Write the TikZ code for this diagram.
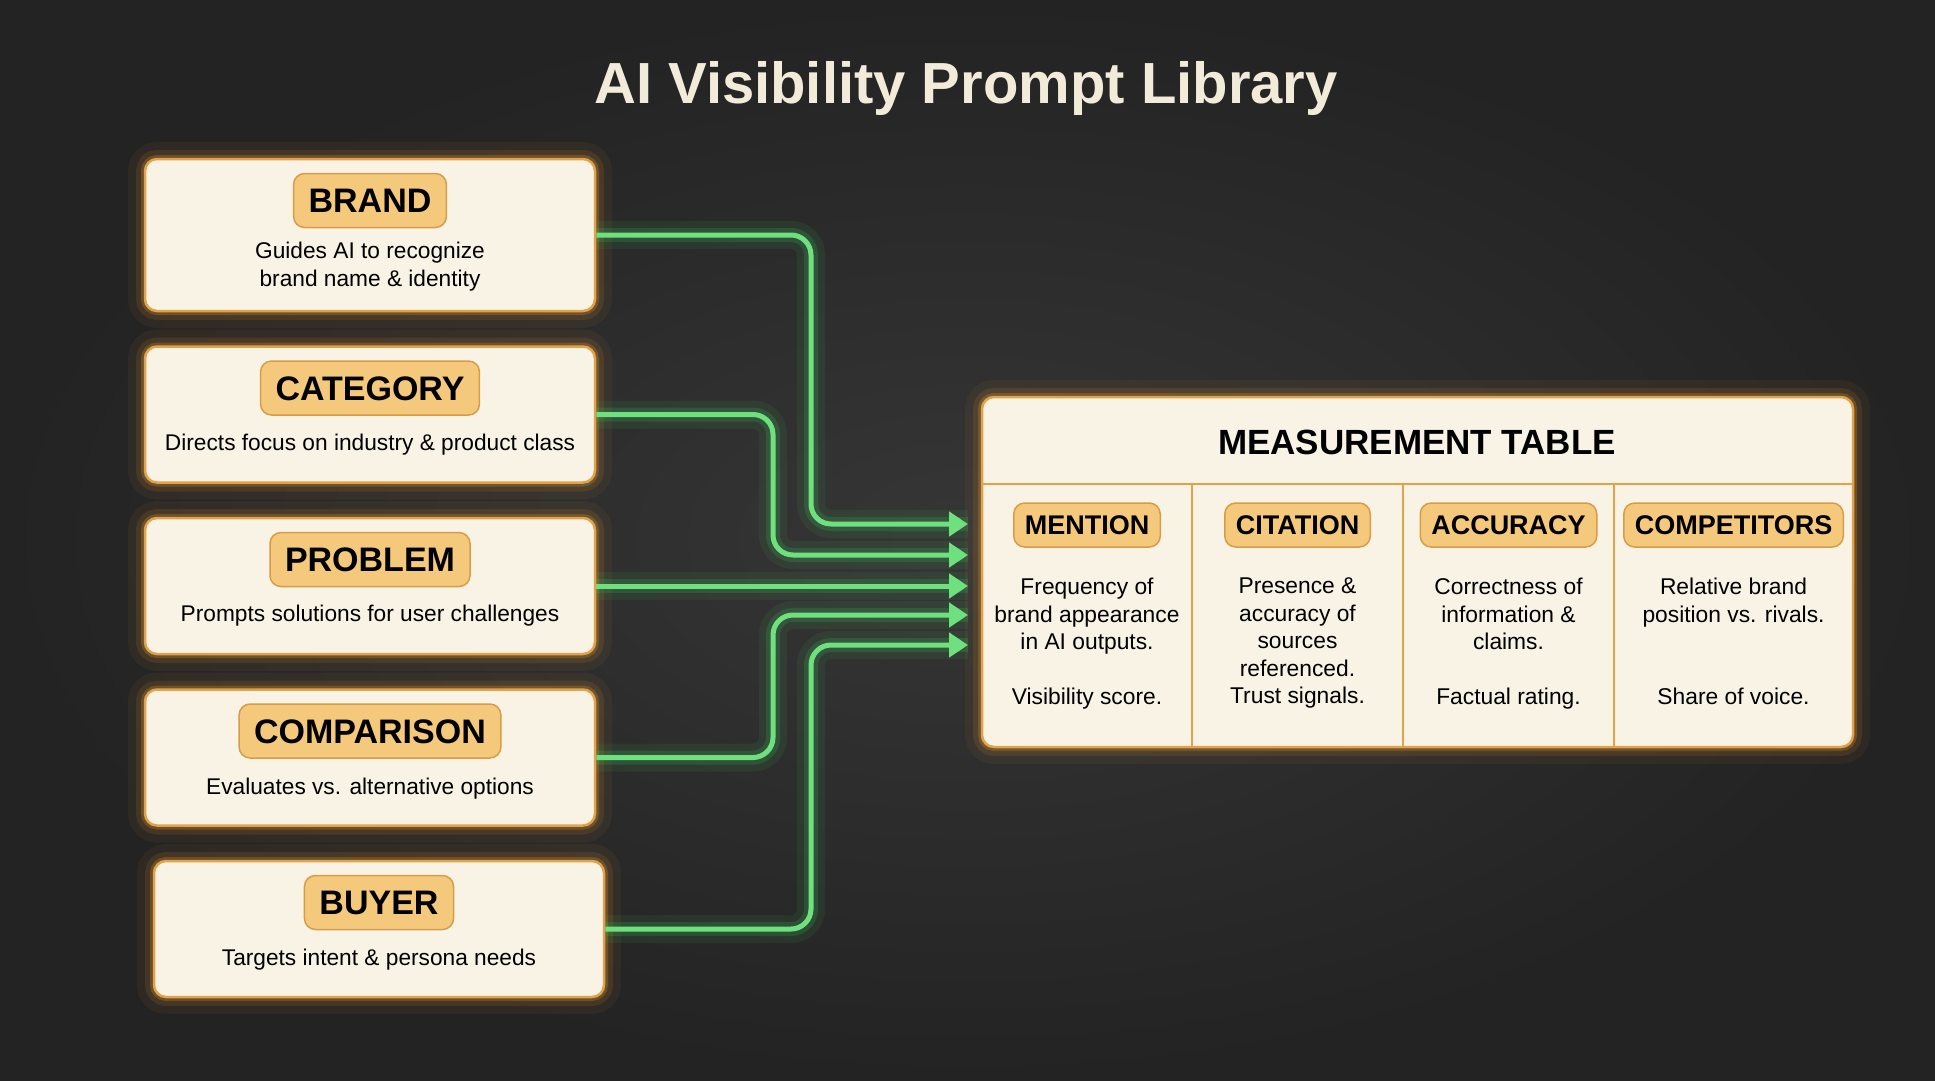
\documentclass[tikz,border=0pt]{standalone}
\usepackage{fontspec}
\setmainfont{Liberation Sans}
\usetikzlibrary{positioning,arrows.meta}
\definecolor{bgdark}{HTML}{232323}
\definecolor{bgmid}{HTML}{363636}
\definecolor{cream}{HTML}{F8F3E5}
\definecolor{gold}{HTML}{E2A24A}
\definecolor{amber}{HTML}{E8982E}
\definecolor{tagfill}{HTML}{F5C97C}
\definecolor{tagline}{HTML}{D89C48}
\definecolor{neon}{HTML}{6FE07E}
\definecolor{neonglow}{HTML}{3FCB5C}
\definecolor{titlecol}{HTML}{F2EBD9}
\newcommand{\fsz}[2]{\fontsize{#1pt}{#2pt}\selectfont}

\begin{document}
\begin{tikzpicture}[x=1pt, y=-1pt, node distance=33pt,
  box/.style={draw=gold, line width=2.5pt, fill=cream, rounded corners=12pt,
    minimum width=450pt, minimum height=136pt,
    preaction={draw=amber, line width=34pt, draw opacity=.06},
    preaction={draw=amber, line width=18pt, draw opacity=.12},
    preaction={draw=amber, line width=8pt, draw opacity=.25}},
  tg/.style={draw=tagline, fill=tagfill, line width=1.5pt, rounded corners=11pt,
    font=\bfseries\fsz{34}{40}, minimum height=54pt, inner xsep=15pt, inner ysep=0pt,
    text height=24.5pt, text depth=0pt},
  ctg/.style={tg, font=\bfseries\fsz{27}{32}, minimum height=44pt, inner xsep=11pt,
    text height=19.5pt},
  ds/.style={font=\fsz{22.7}{28}, align=center, inner sep=0pt},
  bd/.style={ds, font=\fsz{22.8}{27.5}, anchor=north},
  arr/.style={neon, line width=5pt, rounded corners=20pt, -{Triangle[length=19pt,width=24pt]},
    preaction={-, draw=neonglow, line width=28pt, draw opacity=.09},
    preaction={-, draw=neonglow, line width=14pt, draw opacity=.18}}]
\useasboundingbox (0,0) rectangle (1935,1080);
\shade[inner color=bgmid, outer color=bgdark] (0,0) rectangle (1935,1080);

\node[font=\bfseries\fsz{58}{64}, text=titlecol] (title) at (966,88) {AI Visibility Prompt Library};

% prompt categories
\node[box, minimum height=152pt] (brand) at (370,235) {};
\node[box, below=of brand] (cat) {};
\node[box, below=of cat] (prob) {};
\node[box, below=of prob] (comp) {};
\node[box, below=of comp, xshift=9pt] (buyer) {};

\node[tg, below=15pt of brand.north] (brandt) {BRAND};
\node[tg, below=15pt of cat.north] (catt) {CATEGORY};
\node[tg, below=15pt of prob.north] (probt) {PROBLEM};
\node[tg, below=15pt of comp.north] (compt) {COMPARISON};
\node[tg, below=15pt of buyer.north] (buyert) {BUYER};

\node[ds] (brandd) at ([yshift=-109pt]brand.north) {Guides AI to recognize\\brand name \& identity};
\node[ds] (catd) at ([yshift=-99pt]cat.north) {Directs focus on industry \& product class};
\node[ds] (probd) at ([yshift=-99pt]prob.north) {Prompts solutions for user challenges};
\node[ds] (compd) at ([yshift=-100pt]comp.north) {Evaluates vs. alternative options};
\node[ds] (buyerd) at ([yshift=-100pt]buyer.north) {Targets intent \& persona needs};

% measurement table
\node[box, minimum width=871pt, minimum height=350pt] (meas) at (1417.5,572) {};
\coordinate (hd) at (0,484);
\coordinate (c1) at (1192,0); \coordinate (c2) at (1403,0); \coordinate (c3) at (1614,0);
\draw[gold, line width=2pt] (meas.west |- hd) -- (meas.east |- hd);
\draw[gold, line width=2pt] (c1 |- hd) -- (c1 |- meas.south);
\draw[gold, line width=2pt] (c2 |- hd) -- (c2 |- meas.south);
\draw[gold, line width=2pt] (c3 |- hd) -- (c3 |- meas.south);
\node[font=\bfseries\fsz{35}{40}] (mtitle) at (1417,442) {MEASUREMENT TABLE};

\node[ctg] (ment) at (1087,525) {MENTION};
\node[ctg] (cite) at (1297.5,525) {CITATION};
\node[ctg] (accu) at (1508.5,525) {ACCURACY};
\node[ctg] (rival) at (1733.5,525) {COMPETITORS};

\node[bd] (mentb) at (1087,578) {Frequency of\\brand appearance\\in AI outputs.\\[27.5pt]Visibility score.};
\node[bd] (citeb) at (1297.5,578) {Presence \&\\accuracy of\\sources\\referenced.\\Trust signals.};
\node[bd] (accub) at (1508.5,578) {Correctness of\\information \&\\claims.\\[27.5pt]Factual rating.};
\node[bd] (rivalb) at (1733.5,578) {Relative brand\\position vs. rivals.\\[55pt]Share of voice.};

% connectors
\coordinate (t1) at (968,524); \coordinate (t2) at (968,555);
\coordinate (t4) at (968,615); \coordinate (t5) at (968,645);
\coordinate (v1) at (811,0); \coordinate (v2) at (773,0);
\draw[arr] (brand.east) -| (v1 |- t1) -- (t1);
\draw[arr] (cat.east) -| (v2 |- t2) -- (t2);
\draw[arr] (prob.east) -- (t1 |- prob.east);
\draw[arr] (comp.east) -| (v2 |- t4) -- (t4);
\draw[arr] (buyer.east) -| (v1 |- t5) -- (t5);
\end{tikzpicture}
\end{document}
